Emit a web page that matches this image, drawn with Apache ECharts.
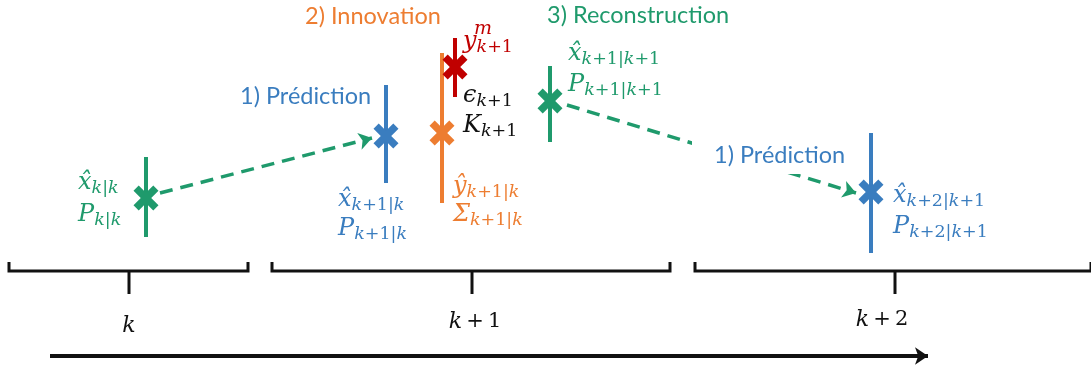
<!DOCTYPE html>
<html>
<head>
<meta charset="utf-8">
<script src="https://cdn.jsdelivr.net/npm/echarts@6/dist/echarts.min.js"></script>
<style>html,body{margin:0;padding:0;background:#fff}#main{width:1091px;height:367px}</style>
</head>
<body>
<div id="main"></div>
<script>
// estimates: cross centre + vertical bar (uncertainty)
var estX = [146, 386, 442, 455, 550, 871];
var estY = [198, 136, 133, 67, 101, 192];
var barTop = [157, 85, 53, 38, 66, 133];
var barBottom = [237, 183, 203, 97, 142, 253];
var estKind = ['green', 'blue', 'orange', 'red', 'green', 'blue'];

// dashed arrows (prediction)
var arrowStart = [[160, 193], [567, 105]];
var arrowEnd = [[372, 138], [856, 193]];

// time brackets
var bracketLeft = [9, 272, 695];
var bracketRight = [248, 670, 1091];
var bracketTick = [129, 472, 895];
var timeLabels = ['k', 'k\u2009+\u20091', 'k\u2009+\u20092'];
var timeLabelX = [129, 475, 882];
var timeLabelY = [326, 322, 320];
var timeArrow = [[50, 356], [928, 356]];

// step titles
var stepTitles = ['1) Prédiction', '2) Innovation', '3) Reconstruction', '1) Prédiction'];
var stepX = [240, 305, 547, 714];
var stepY = [96, 16, 15, 155];
var stepKind = ['blue', 'orange', 'green', 'blue'];

// math labels (symbol + subscript)
var mathSym = ['x̂', 'P', 'x̂', 'P', 'ŷ', 'Σ', 'y', 'ϵ', 'K', 'x̂', 'P', 'x̂', 'P'];
var mathSub = ['k|k', 'k|k', 'k+1|k', 'k+1|k', 'k+1|k', 'k+1|k', 'k+1', 'k+1', 'k+1', 'k+1|k+1', 'k+1|k+1', 'k+2|k+1', 'k+2|k+1'];
var mathX = [78, 78, 338, 338, 453, 453, 463, 463, 463, 568, 568, 893, 893];
var mathY = [183, 215, 200, 229, 187, 215, 42, 96, 126, 54, 85, 196, 227];
var mathKind = ['green', 'green', 'blue', 'blue', 'orange', 'orange', 'red', 'black', 'black', 'green', 'green', 'blue', 'blue'];
var supText = ['m'];
var supX = [474];
var supY = [29];
var supKind = ['red'];

var colors = {
    green: '#1f9a6c',
    blue: '#3a7dbf',
    orange: '#ed7d31',
    red: '#c00000',
    black: '#111111'
};
var mathFont = 'DejaVu Serif';

function subRich(str) {
    return str.replace(/([a-z]+)|([^a-z]+)/g, function (m, a, b) {
        return a ? '{si|' + a + '}' : '{sn|' + b + '}';
    });
}
function timeRich(str) {
    return str.replace(/([a-z]+)|([^a-z]+)/g, function (m, a, b) {
        return a ? '{ti|' + a + '}' : '{tn|' + b + '}';
    });
}

var mathRich = {
    m: {fontFamily: mathFont, fontStyle: 'italic', fontSize: 24, lineHeight: 26},
    si: {fontFamily: mathFont, fontStyle: 'italic', fontSize: 17.5, lineHeight: 18, padding: [11, 0, 0, 0]},
    sn: {fontFamily: mathFont, fontSize: 17.5, lineHeight: 18, padding: [11, 0, 0, 0]},
    sup: {fontFamily: mathFont, fontStyle: 'italic', fontSize: 19, lineHeight: 20}
};

var barData = [];
var crossData = [];
for (var i = 0; i < estX.length; i++) {
    barData.push({
        coords: [[estX[i], barTop[i]], [estX[i], barBottom[i]]],
        lineStyle: {color: colors[estKind[i]]}
    });
    crossData.push({value: [estX[i], estY[i]], itemStyle: {color: colors[estKind[i]]}});
}

var arrowData = [];
for (var i = 0; i < arrowStart.length; i++) {
    arrowData.push({coords: [arrowStart[i], arrowEnd[i]]});
}

var bracketData = [];
for (var i = 0; i < bracketLeft.length; i++) {
    bracketData.push({coords: [[bracketLeft[i], 262], [bracketLeft[i], 271], [bracketRight[i], 271], [bracketRight[i], 262]]});
    bracketData.push({coords: [[bracketTick[i], 271], [bracketTick[i], 294]]});
}

var mathData = [];
for (var i = 0; i < mathSym.length; i++) {
    mathData.push({
        value: [mathX[i], mathY[i]],
        label: {color: colors[mathKind[i]], formatter: '{m|' + mathSym[i] + '}' + subRich(mathSub[i])}
    });
}
for (var i = 0; i < supText.length; i++) {
    mathData.push({
        value: [supX[i], supY[i]],
        label: {color: colors[supKind[i]], formatter: '{sup|' + supText[i] + '}'}
    });
}

var stepData = [];
for (var i = 0; i < stepTitles.length; i++) {
    var lab = {color: colors[stepKind[i]], formatter: stepTitles[i]};
    var x = stepX[i];
    if (i == 3) {
        // white box hides the dashed arrow behind the title
        lab.backgroundColor = '#fff';
        lab.padding = [7, 6, 7, 22];
        x = x - 22;
    }
    stepData.push({value: [x, stepY[i]], label: lab});
}

var timeData = [];
for (var i = 0; i < timeLabels.length; i++) {
    timeData.push({value: [timeLabelX[i], timeLabelY[i]], label: {formatter: timeRich(timeLabels[i])}});
}

var myChart = echarts.init(document.getElementById('main'));
var option = {
    animation: false,
    grid: {left: 0, right: 0, top: 0, bottom: 0},
    xAxis: {type: 'value', min: 0, max: 1091, show: false},
    yAxis: {type: 'value', min: 0, max: 367, inverse: true, show: false},
    series: [
        {
            type: 'lines',
            coordinateSystem: 'cartesian2d',
            z: 2,
            lineStyle: {width: 4, opacity: 1},
            data: barData
        },
        {
            type: 'lines',
            coordinateSystem: 'cartesian2d',
            z: 2,
            symbol: ['none', 'arrow'],
            symbolSize: 13,
            lineStyle: {width: 3.5, type: [13, 8], color: colors.green, opacity: 1},
            data: arrowData
        },
        {
            type: 'lines',
            coordinateSystem: 'cartesian2d',
            polyline: true,
            z: 2,
            lineStyle: {width: 3, color: colors.black, opacity: 1},
            data: bracketData
        },
        {
            type: 'lines',
            coordinateSystem: 'cartesian2d',
            z: 2,
            symbol: ['none', 'arrow'],
            symbolSize: 13,
            lineStyle: {width: 4, color: colors.black, opacity: 1},
            data: [{coords: timeArrow}]
        },
        {
            type: 'scatter',
            z: 4,
            symbol: 'path://M0,5 L5,0 L12,7 L19,0 L24,5 L17,12 L24,19 L19,24 L12,17 L5,24 L0,19 L7,12 Z',
            symbolSize: 25,
            itemStyle: {opacity: 1},
            data: crossData
        },
        {
            type: 'scatter',
            z: 5,
            symbolSize: 0,
            itemStyle: {opacity: 1},
            label: {show: true, position: 'right', distance: 0, rich: mathRich},
            data: mathData
        },
        {
            type: 'scatter',
            z: 5,
            symbolSize: 0,
            itemStyle: {opacity: 1},
            label: {show: true, position: 'right', distance: 0, fontFamily: 'Lato', fontSize: 23.5},
            data: stepData
        },
        {
            type: 'scatter',
            z: 5,
            symbolSize: 0,
            itemStyle: {opacity: 1},
            label: {
                show: true, position: 'inside', color: colors.black,
                rich: {
                    ti: {fontFamily: mathFont, fontStyle: 'italic', fontSize: 22},
                    tn: {fontFamily: mathFont, fontSize: 21}
                }
            },
            data: timeData
        }
    ]
};
myChart.setOption(option);
</script>
</body>
</html>
